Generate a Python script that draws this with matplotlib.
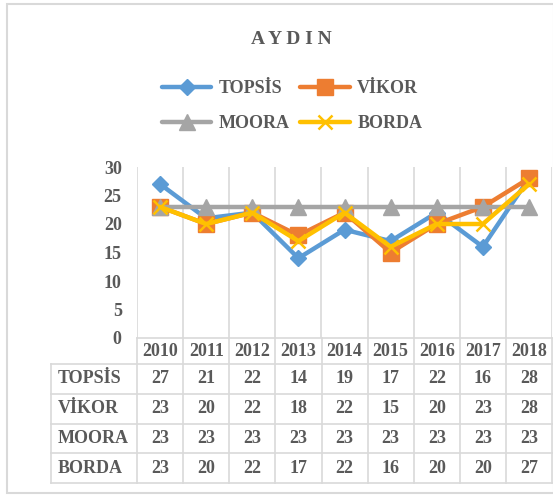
import matplotlib.pyplot as plt
import matplotlib.patches as patches
import numpy as np

years = ['2010', '2011', '2012', '2013', '2014', '2015', '2016', '2017', '2018']
methods = ['TOPSİS', 'VİKOR', 'MOORA', 'BORDA']
topsis = [27, 21, 22, 14, 19, 17, 22, 16, 28]
vikor = [23, 20, 22, 18, 22, 15, 20, 23, 28]
moora = [23, 23, 23, 23, 23, 23, 23, 23, 23]
borda = [23, 20, 22, 17, 22, 16, 20, 20, 27]
title = 'A Y D I N'

grey_txt = '#595959'
grid_c = '#d9d9d9'
plt.rcParams['font.family'] = ['Liberation Serif', 'DejaVu Serif']
plt.rcParams['font.weight'] = 'bold'
fs = 13

W, H = 553, 497
fig = plt.figure(figsize=(W / 100, H / 100), dpi=100)

# outer chart border (right side runs off the picture)
fig.patches.append(patches.Rectangle((6.5 / W, 1 - 493 / H), 0.99, 489 / H,
                                     transform=fig.transFigure, fill=False,
                                     edgecolor=grid_c, lw=1.5))

# plot area
ax = fig.add_axes([137 / W, 1 - 338 / H, 415 / W, 171 / H])
x = np.arange(len(years)) + 0.5
series = [
    (topsis, '#5B9BD5', 'D', 8.5, {}),
    (vikor, '#ED7D31', 's', 11, {}),
    (moora, '#A5A5A5', '^', 12, {}),
    (borda, '#FFC000', 'x', 10, {'markeredgewidth': 1.8}),
]
handles = []
for (vals, col, mk, ms, extra), name in zip(series, methods):
    h, = ax.plot(x, vals, color=col, lw=3.2, marker=mk, markersize=ms,
                 markerfacecolor=col, markeredgecolor=col, label=name,
                 solid_capstyle='round', zorder=3, **extra)
    handles.append(h)

ax.set_xlim(0, len(years))
ax.set_ylim(0, 30)
ax.set_yticks(range(0, 31, 5))
ax.set_yticklabels([str(v) for v in range(0, 31, 5)], fontsize=fs,
                   fontweight='bold', color=grey_txt)
ax.tick_params(axis='y', length=0, pad=11)
ax.set_xticks([])
for s in ax.spines.values():
    s.set_visible(False)
for i in range(len(years) + 1):
    ax.axvline(i, color=grid_c, lw=1.2, zorder=1)

# data table under the plot
tab = fig.add_axes([51 / W, 1 - 483 / H, 501 / W, 145 / H])
lab_w = 86 / 46
tab.set_xlim(-lab_w, len(years))
tab.set_ylim(145, 0)
tab.axis('off')
hdr = 26
row_h = (145 - hdr) / len(methods)
for i in range(len(years) + 1):
    tab.plot([i, i], [0, 145], color=grid_c, lw=1.2, clip_on=False)
tab.plot([-lab_w, -lab_w], [hdr, 145], color=grid_c, lw=1.2, clip_on=False)
tab.plot([0, len(years)], [0, 0], color=grid_c, lw=1.2, clip_on=False)
for r in range(len(methods) + 1):
    yy = hdr + r * row_h
    tab.plot([-lab_w, len(years)], [yy, yy], color=grid_c, lw=1.2, clip_on=False)
for i, yr in enumerate(years):
    tab.text(i + 0.5, hdr / 2 + 1, yr, ha='center', va='center',
             fontsize=fs, fontweight='bold', color=grey_txt)
for r, (name, vals) in enumerate(zip(methods, [topsis, vikor, moora, borda])):
    yc = hdr + (r + 0.5) * row_h
    tab.text(-lab_w + 0.15, yc, name, ha='left', va='center',
             fontsize=fs, fontweight='bold', color=grey_txt)
    for i, v in enumerate(vals):
        tab.text(i + 0.5, yc, str(v), ha='center', va='center',
                 fontsize=fs, fontweight='bold', color=grey_txt)

fig.text(291 / W, 1 - 40 / H, title, ha='center', va='center',
         fontsize=14, fontweight='bold', color=grey_txt)

# legend filled row by row: TOPSIS, VIKOR / MOORA, BORDA
order = [0, 2, 1, 3]
leg = fig.legend(handles=[handles[k] for k in order], loc='center', ncol=2,
                 bbox_to_anchor=(292 / W, 1 - 106 / H), frameon=False,
                 prop={'size': 13, 'weight': 'bold'}, handlelength=2.75,
                 handletextpad=0.4, columnspacing=0.6, labelspacing=1.0)
for t in leg.get_texts():
    t.set_color(grey_txt)

fig.savefig('out.png', dpi=100)
